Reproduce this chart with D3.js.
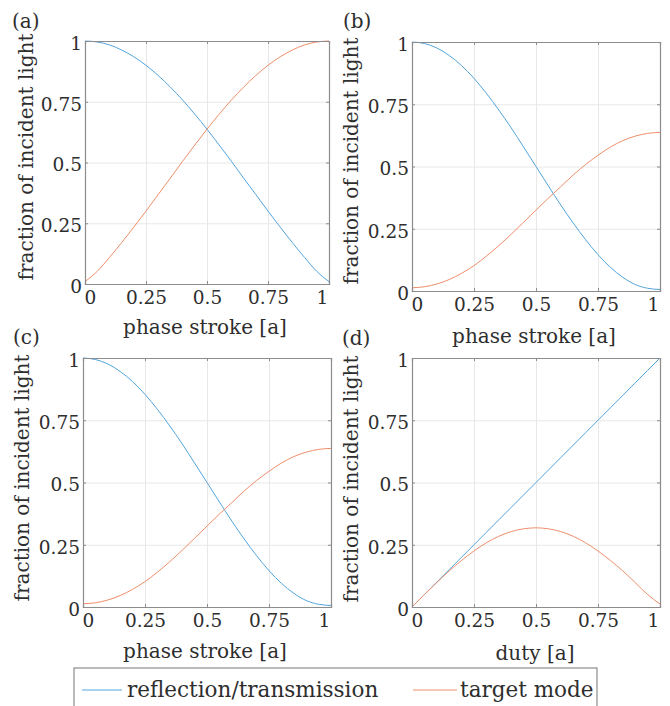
<!DOCTYPE html>
<html><head><meta charset="utf-8">
<script src="https://cdn.jsdelivr.net/npm/d3@7"></script>
<style>
body{margin:0;background:#fff}
svg{display:block}
text{font-family:"DejaVu Serif",serif;fill:#2e2e2e}
</style>
</head><body>
<svg id="chart" width="670" height="706"></svg>
<script>
// ---------- data ----------
const xValues=[0,0.05,0.10,0.15,0.20,0.25,0.30,0.35,0.40,0.45,0.50,0.55,0.60,0.65,0.70,0.75,0.80,0.85,0.90,0.95,1.00];
const tickValues=[0,0.25,0.5,0.75,1];
const tickLabels=["0","0.25","0.5","0.75","1"];
const panelLetters=["(a)","(b)","(c)","(d)"];
const xTitles=["phase stroke [a]","phase stroke [a]","phase stroke [a]","duty [a]"];
const yTitle="fraction of incident light";
const seriesNames=["reflection/transmission","target mode"];
const seriesColors=["#52a5dc","#ef8e6b"];

const aReflection=[1.000,0.996,0.984,0.963,0.935,0.900,0.858,0.810,0.757,0.699,0.637,0.572,0.505,0.436,0.368,0.300,0.234,0.170,0.109,0.052,0.010];
const aTarget=[0.010,0.052,0.109,0.170,0.234,0.300,0.368,0.436,0.505,0.572,0.637,0.699,0.757,0.810,0.858,0.900,0.935,0.963,0.984,0.996,1.000];
const bReflection=[1.000,0.994,0.976,0.946,0.905,0.854,0.794,0.727,0.655,0.578,0.500,0.422,0.345,0.273,0.206,0.146,0.095,0.055,0.026,0.011,0.006];
const bTarget=[0.013,0.017,0.028,0.046,0.071,0.102,0.140,0.182,0.228,0.276,0.325,0.373,0.419,0.466,0.508,0.545,0.578,0.604,0.622,0.633,0.637];
const cReflection=[1.000,0.994,0.976,0.946,0.905,0.854,0.794,0.727,0.655,0.578,0.500,0.422,0.345,0.273,0.206,0.146,0.095,0.055,0.026,0.011,0.006];
const cTarget=[0.013,0.017,0.028,0.046,0.071,0.102,0.140,0.182,0.228,0.276,0.325,0.373,0.419,0.466,0.508,0.545,0.578,0.604,0.622,0.633,0.637];
const dReflection=[0.000,0.050,0.100,0.150,0.200,0.250,0.300,0.350,0.400,0.450,0.500,0.550,0.600,0.650,0.700,0.750,0.800,0.850,0.900,0.950,1.000];
const dTarget=[0.000,0.050,0.098,0.145,0.187,0.225,0.258,0.284,0.303,0.314,0.318,0.314,0.303,0.284,0.258,0.225,0.187,0.145,0.098,0.050,0.012];

const panelSeries=[[aReflection,aTarget],[bReflection,bTarget],[cReflection,cTarget],[dReflection,dTarget]];

// ---------- layout ----------
const layout=[
  {l:85,r:329,t:41,b:284, lx:12,ly:28, yx:33,yy:157, xx:205,xy:334},
  {l:412,r:660,t:42,b:291, lx:343,ly:28, yx:358,yy:161, xx:534,xy:343},
  {l:83,r:331,t:358,b:607, lx:13,ly:344, yx:29,yy:478, xx:205,xy:658},
  {l:412,r:660,t:358,b:607, lx:342,ly:345, yx:358,yy:479, xx:535,xy:660}
];

const svg=d3.select("#chart");
const axisColor="#8c8c8c";

layout.forEach((p,i)=>{
  const x=d3.scaleLinear().domain([0,1]).range([p.l,p.r]);
  const y=d3.scaleLinear().domain([0,1]).range([p.b,p.t]);
  const g=svg.append("g");

  // grid
  const gx=g.append("g").attr("transform",`translate(0,${p.b})`)
    .call(d3.axisBottom(x).tickValues(tickValues.slice(1,-1)).tickSize(-(p.b-p.t)).tickFormat(""));
  const gy=g.append("g").attr("transform",`translate(${p.l},0)`)
    .call(d3.axisLeft(y).tickValues(tickValues.slice(1,-1)).tickSize(-(p.r-p.l)).tickFormat(""));
  [gx,gy].forEach(a=>{a.select(".domain").remove();a.selectAll("line").attr("stroke","#e8e8e8").attr("stroke-width",1);});

  // lines
  const line=d3.line().x((d,k)=>x(xValues[k])).y(d=>y(d)).curve(d3.curveMonotoneX);
  panelSeries[i].forEach((s,j)=>{
    g.append("path").datum(s).attr("d",line).attr("fill","none")
      .attr("stroke",seriesColors[j]).attr("stroke-width",1);
  });

  // axes (bottom/left with labels, top/right box)
  const xa=g.append("g").attr("transform",`translate(0,${p.b})`)
    .call(d3.axisBottom(x).tickValues(tickValues).tickSize(-3).tickPadding(6).tickFormat((d,k)=>tickLabels[k]));
  const ya=g.append("g").attr("transform",`translate(${p.l},0)`)
    .call(d3.axisLeft(y).tickValues(tickValues).tickSize(-3).tickPadding(3).tickFormat((d,k)=>tickLabels[k]));
  const xt=g.append("g").attr("transform",`translate(0,${p.t})`)
    .call(d3.axisTop(x).tickValues(tickValues).tickSize(-3).tickFormat(""));
  const yr=g.append("g").attr("transform",`translate(${p.r},0)`)
    .call(d3.axisRight(y).tickValues(tickValues).tickSize(-3).tickFormat(""));
  [xa,ya,xt,yr].forEach(a=>{
    a.select(".domain").attr("stroke",axisColor).attr("stroke-width",1.2);
    a.selectAll(".tick line").attr("stroke",axisColor);
    a.selectAll(".tick text").attr("font-family","DejaVu Serif").attr("font-size",18.5).attr("fill","#2e2e2e");
  });
  xa.selectAll(".tick text").attr("dy","0.74em")
    .attr("dx",(d,k)=>k===0?5:(k===tickLabels.length-1?-7:0));
  ya.selectAll(".tick text").attr("dy","0.45em");

  // titles
  g.append("text").attr("x",p.xx).attr("y",p.xy).attr("text-anchor","middle")
    .attr("font-size",20).text(xTitles[i]);
  g.append("text").attr("transform",`translate(${p.yx},${p.yy}) rotate(-90)`)
    .attr("text-anchor","middle").attr("font-size",20).text(yTitle);
  g.append("text").attr("x",p.lx).attr("y",p.ly).attr("font-size",20).text(panelLetters[i]);
});

// ---------- legend ----------
const lg=svg.append("g");
lg.append("rect").attr("x",74).attr("y",668).attr("width",523).attr("height",60)
  .attr("fill","#fff").attr("stroke",axisColor).attr("stroke-width",1.2);
const legendItems=[{x1:82,x2:122,tx:127},{x1:413,x2:457,tx:460}];
seriesNames.forEach((n,j)=>{
  const it=legendItems[j];
  lg.append("line").attr("x1",it.x1).attr("x2",it.x2).attr("y1",690).attr("y2",690)
    .attr("stroke",seriesColors[j]).attr("stroke-width",1);
  lg.append("text").attr("x",it.tx).attr("y",697).attr("font-size",21.5).text(n);
});
</script>
</body></html>
